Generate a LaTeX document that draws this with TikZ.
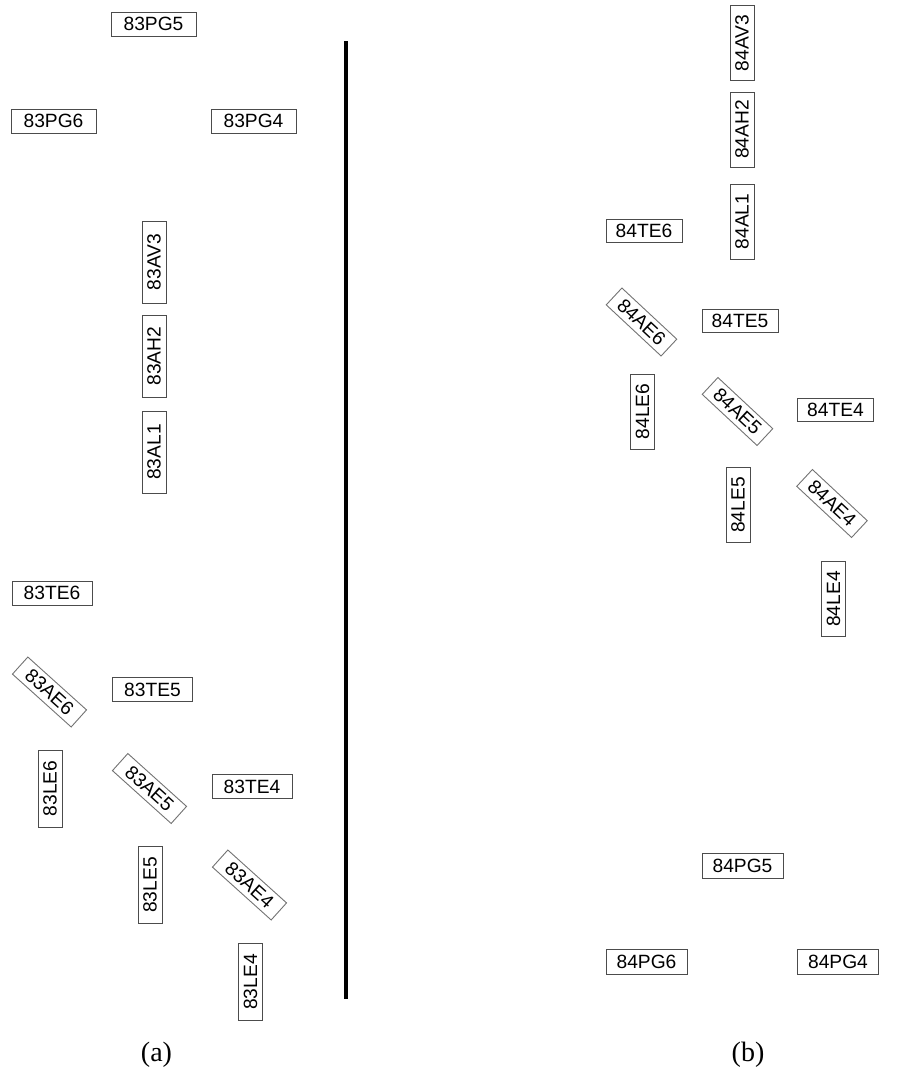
\documentclass[tikz,border=0pt]{standalone}
\usepackage{fontspec}
\newfontfamily\labfont{Liberation Sans}
\newfontfamily\capfont{Liberation Serif}
\begin{document}
\begin{tikzpicture}[x=1pt,y=-1pt,
  lab/.style={draw=black!70, line width=0.9pt, inner sep=0pt, minimum height=24pt,
    font=\labfont\fontsize{19.2}{20}\selectfont, fill=white},
  pg/.style={lab, minimum width=85pt},
  te/.style={lab, minimum width=80pt},
  vt/.style={lab, rotate=90, minimum width=82pt},
  le/.style={lab, rotate=90, minimum width=77pt},
  ae/.style={lab, draw=black!55, rotate=-42, minimum width=79pt, minimum height=23pt},
  rte/.style={lab, minimum width=76pt, minimum height=23pt},
  rvt/.style={lab, rotate=90, minimum width=75pt},
  rae/.style={lab, draw=black!55, rotate=-43, minimum width=75pt, minimum height=23pt},
  rpg/.style={lab, minimum width=81pt, minimum height=25pt},
  captext/.style={font=\capfont\fontsize{28}{30}\selectfont, inner sep=0pt}]
\useasboundingbox (0,0) rectangle (918,1072);
% divider
\coordinate (top) at (346,41);
\coordinate (bot) at (346,999);
\draw[line width=4pt] (top) -- (bot);
% (a)
\node[pg] (a5) at (153.5,24) {83PG5};
\node[pg] (a6) at (53.5,121) {83PG6};
\node[pg] (a4) at (253.5,121) {83PG4};
\node[vt] (aav) at (154,262) {83AV3};
\node[vt] (aah) at (154,356) {83AH2};
\node[vt] (aal) at (154,452) {83AL1};
\node[te] (ate6) at (52,593) {83TE6};
\node[ae] (aae6) at (49.5,692) {83AE6};
\node[te] (ate5) at (152.5,689.5) {83TE5};
\node[le] (ale6) at (50,788.5) {83LE6};
\node[ae] (aae5) at (149.5,788.5) {83AE5};
\node[te] (ate4) at (252,786.5) {83TE4};
\node[le] (ale5) at (150,885) {83LE5};
\node[ae] (aae4) at (249.5,885) {83AE4};
\node[le] (ale4) at (250.5,982) {83LE4};
% (b)
\node[rvt] (bav) at (742,43) {84AV3};
\node[rvt] (bah) at (742,129.5) {84AH2};
\node[rvt] (bal) at (742,221.5) {84AL1};
\node[rte] (bte6) at (644,230.5) {84TE6};
\node[rae] (bae6) at (641.5,322) {84AE6};
\node[rte] (bte5) at (740,320.5) {84TE5};
\node[rvt] (ble6) at (642.5,411.5) {84LE6};
\node[rae] (bae5) at (737.5,411.5) {84AE5};
\node[rte] (bte4) at (835.5,410) {84TE4};
\node[rvt] (ble5) at (738,505) {84LE5};
\node[rae] (bae4) at (832,503.5) {84AE4};
\node[rvt] (ble4) at (833.5,599) {84LE4};
\node[rpg] (b5) at (742.5,865.5) {84PG5};
\node[rpg] (b6) at (646.5,961.5) {84PG6};
\node[rpg] (b4) at (838,961.5) {84PG4};
% captions
\node[captext] (capa) at (156.5,1055) {(a)};
\node[captext] (capb) at (748,1055) {(b)};
\end{tikzpicture}
\end{document}
